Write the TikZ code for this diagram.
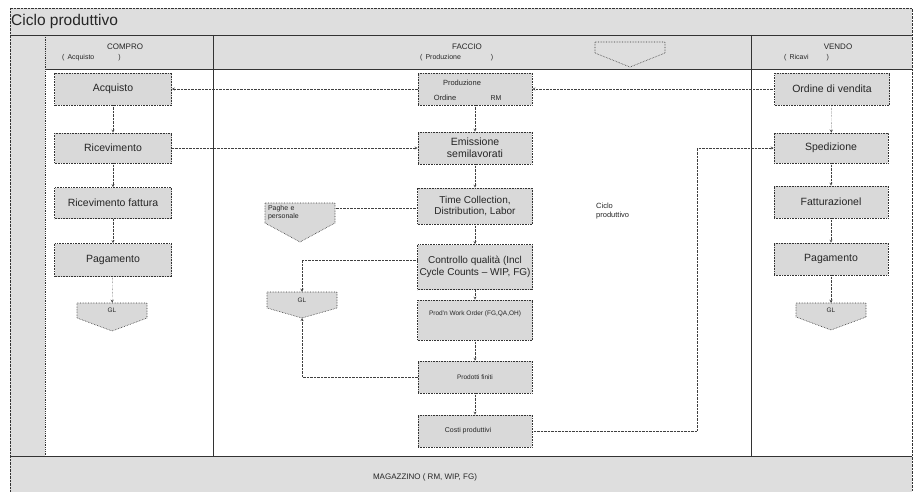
\documentclass[tikz,border=0pt]{standalone}
\usepackage{fontspec}
\setmainfont{Liberation Sans}

\begin{document}
\begin{tikzpicture}
	[x=1pt,y=-1pt,
	 box/.style={rectangle,draw=black!80,densely dotted,line width=0.6pt,fill=black!15,minimum width=115,minimum height=32,inner sep=1pt,align=center,text=black!85,font=\fontsize{10.5}{12}\selectfont},
	 offpage/.style={draw=black!80,densely dotted,line width=0.6pt,fill=black!15},
	 gltext/.style={rectangle,inner sep=0pt,minimum width=70,text=black!85,font=\fontsize{6.5}{7.5}\selectfont},
	 flow/.style={->,>=stealth,densely dotted,black!75},
	 lane/.style={draw=black!80},
	 band/.style={fill=black!13},
	 lanetext/.style={inner sep=0pt,text=black!85}]

	\path [use as bounding box] (0,0) rectangle (915,492);

	% frame, bands and lanes
	\path[band] (10,8) rectangle (912,492);
	\path[fill=white] (45,69) rectangle (912,456);
	\draw[lane,densely dotted] (10,8) rectangle (912,492);
	\draw[lane] (10,35) -- (912,35);
	\draw[lane] (45,69) -- (912,69);
	\draw[lane] (10,456) -- (912,456);
	\draw[lane,densely dotted,line width=0.8pt] (45,35) -- (45,456);
	\draw[lane] (213,35) -- (213,456);
	\draw[lane] (751,35) -- (751,456);

	\node[lanetext,anchor=west,font=\fontsize{15.5}{17}\selectfont] (title) at (11,21) {Ciclo produttivo};

	\node[lanetext,font=\fontsize{8}{9}\selectfont] (hcompro) at (125,47) {COMPRO};
	\node[lanetext,anchor=west,font=\fontsize{7}{8}\selectfont] (hacquisto) at (62,58) {(\hspace{3pt}Acquisto\hspace{24pt})};
	\node[lanetext,font=\fontsize{8}{9}\selectfont] (hfaccio) at (467,47) {FACCIO};
	\node[lanetext,anchor=west,font=\fontsize{7}{8}\selectfont] (hproduzione) at (420,58) {(\hspace{3pt}Produzione\hspace{30pt})};
	\node[lanetext,font=\fontsize{8}{9}\selectfont] (hvendo) at (838,47) {VENDO};
	\node[lanetext,anchor=west,font=\fontsize{7}{8}\selectfont] (hricavi) at (784,58) {(\hspace{3pt}Ricavi\hspace{18pt})};
	\path[offpage,fill=black!13] (595,42) -- (665,42) -- (665,53) -- (630,67) -- (595,53) -- cycle;
	\node[gltext,minimum height=11] (hdrconn) at (630,47.5) {};

	% COMPRO
	\node[box,minimum width=117] (acquisto)    at (113,89)  {Acquisto};
	\node[box,minimum width=117,minimum height=30] (ricevimento) at (113,148) {Ricevimento};
	\node[box,minimum width=117,minimum height=31] (ricfattura)  at (113,203) {Ricevimento fattura};
	\node[box,minimum width=117,minimum height=33] (pagacq)      at (113,260) {Pagamento};
	\path[offpage] (77,303) -- (147,303) -- (147,318) -- (112,331) -- (77,318) -- cycle;
	\node[gltext,minimum height=15] (glacq) at (112,310.5) {GL};

	% FACCIO
	\node[box,minimum width=114] (produzione) at (475,89) {};
	\node[lanetext,font=\fontsize{7.5}{8}\selectfont] (prodtxt)   at (462,83) {Produzione};
	\node[lanetext,font=\fontsize{7.5}{8}\selectfont] (ordinetxt) at (445,98) {Ordine};
	\node[lanetext,font=\fontsize{7}{8}\selectfont]   (rmtxt)     at (496,98) {RM};
	\node[box,minimum width=114] (emissione) at (475,148) {Emissione\\semilavorati};
	\node[box,minimum height=36,font=\fontsize{10}{11.5}\selectfont] (timecoll) at (475,206) {Time Collection,\\Distribution, Labor};
	\node[box,minimum height=45,font=\fontsize{10}{11.5}\selectfont] (qualita) at (475,267) {Controllo qualità (Incl\\Cycle Counts -- WIP, FG)};
	\node[box,minimum height=40,text depth=14pt,font=\fontsize{6.5}{7.5}\selectfont] (workorder) at (475,320) {Prod'n Work Order (FG,QA,OH)};
	\node[box,minimum width=114,font=\fontsize{6.5}{7.5}\selectfont] (finiti) at (475,377) {Prodotti finiti};
	\node[box,minimum width=114,font=\fontsize{7}{8}\selectfont] (costi) at (475,431) {Costi produttivi\hspace{14pt}};
	\path[offpage] (265,203) -- (335,203) -- (335,223) -- (300,242) -- (265,223) -- cycle;
	\node[gltext,minimum height=20,align=left,text width=64,font=\fontsize{7}{8}\selectfont] (paghe) at (300,213) {Paghe e\\personale};
	\path[offpage] (267,292) -- (337,292) -- (337,308) -- (302,318) -- (267,308) -- cycle;
	\node[gltext,minimum height=16] (glprod) at (302,300) {GL};
	\coordinate (glprodtip) at (302,318);
	\node[lanetext,anchor=north west,align=left,font=\fontsize{7.5}{8.5}\selectfont] (nota) at (596,203) {Ciclo\\produttivo};

	% VENDO
	\node[box] (ordine)       at (832,89)  {Ordine di vendita};
	\node[box,minimum width=114,minimum height=30] (spedizione)   at (831,148) {Spedizione};
	\node[box,minimum width=114] (fatturazione) at (831,202) {Fatturazionel};
	\node[box,minimum width=114] (pagven)       at (831,259) {Pagamento};
	\path[offpage] (796,303) -- (866,303) -- (866,317) -- (831,330) -- (796,317) -- cycle;
	\node[gltext,minimum height=14] (glven) at (831,310) {GL};

	\node[lanetext,font=\fontsize{8}{9}\selectfont] (magazzino) at (425,477) {MAGAZZINO ( RM, WIP, FG)};

	\coordinate (bendR) at (697,148);

	% connectors
	\draw[flow] (acquisto) -- (ricevimento);
	\draw[flow] (ricevimento) -- (ricfattura);
	\draw[flow] (ricfattura) -- (pagacq);
	\draw[flow] (pagacq) -- (glacq);

	\draw[flow] (produzione) -- (emissione);
	\draw[flow] (emissione) -- (timecoll);
	\draw[flow] (timecoll) -- (qualita);
	\draw[flow] (qualita) -- (workorder);
	\draw[flow] (workorder) -- (finiti);
	\draw[flow] (finiti) -- (costi);

	\draw[flow] (ordine) -- (spedizione);
	\draw[flow] (spedizione) -- (fatturazione);
	\draw[flow] (fatturazione) -- (pagven);
	\draw[flow] (pagven) -- (glven);

	\draw[flow] (ordine.west) -- (produzione.east);
	\draw[flow] (produzione.west) -- (acquisto.east);
	\draw[flow] (ricevimento.east) -- (emissione.west);
	\draw[flow,-] ([yshift=-2pt]timecoll.west) -- ([yshift=-2pt]timecoll.west -| paghe.east);
	\draw[flow] ([yshift=7pt]qualita.west) -| (glprod.north);
	\draw[flow] (finiti.west) -| (glprodtip);
	\draw[flow] (costi.east) -| (bendR) -- (spedizione.west);
\end{tikzpicture}
\end{document}
